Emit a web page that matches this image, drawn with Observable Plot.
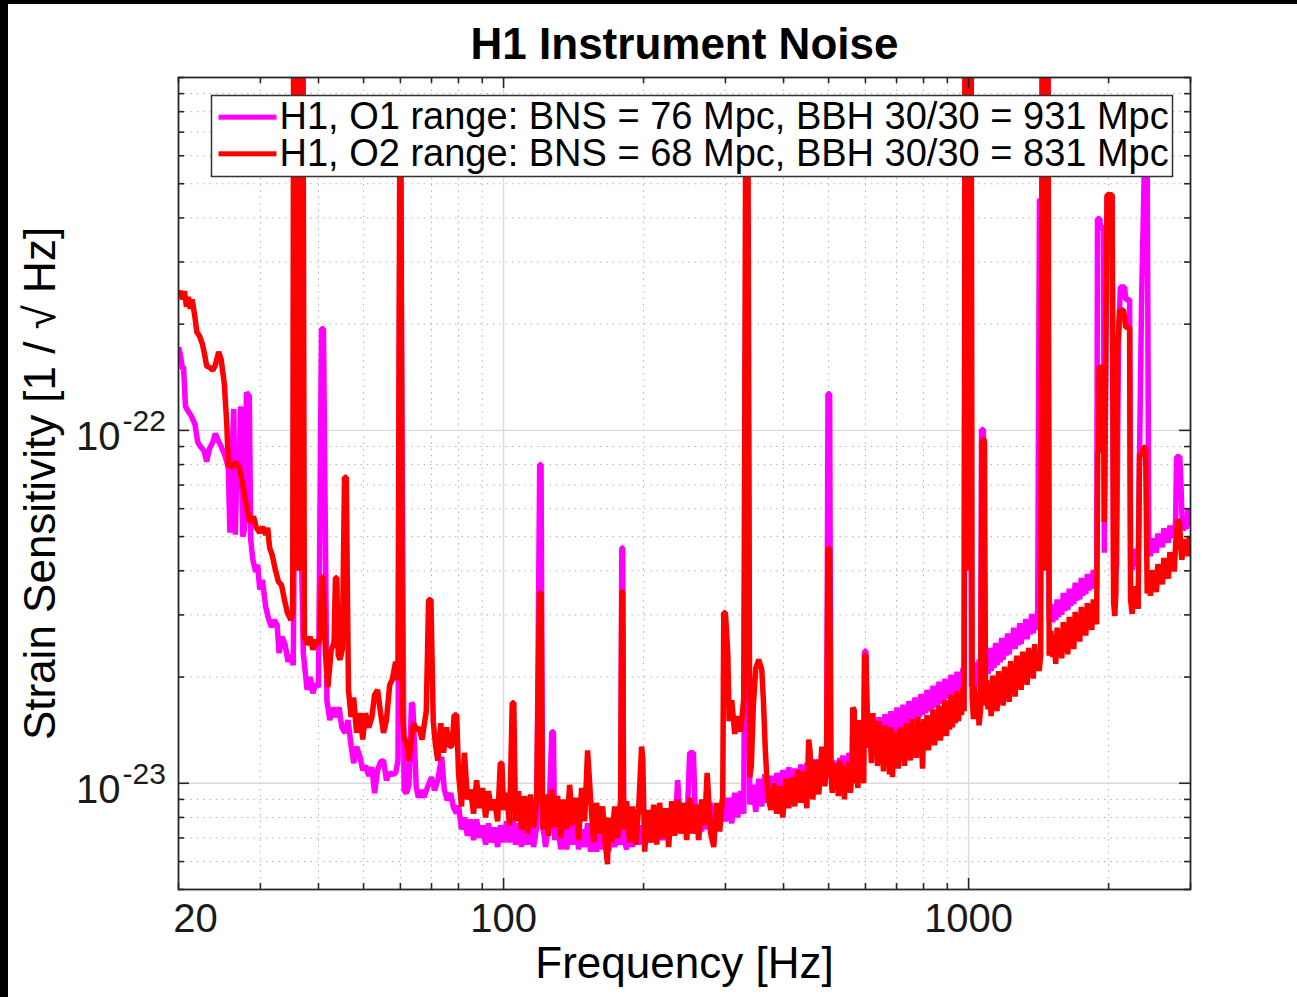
<!DOCTYPE html>
<html><head><meta charset="utf-8">
<script src="https://cdn.jsdelivr.net/npm/d3@7"></script>
<script src="https://cdn.jsdelivr.net/npm/@observablehq/plot@0.6"></script>
<style>
html,body{margin:0;padding:0;background:#000;width:1297px;height:997px;overflow:hidden;}
#chart{position:absolute;left:8px;top:4px;width:1289px;height:993px;background:#fff;}
</style></head><body><div id="chart"></div>
<script>
// Strain amplitude values are in units of 1e-23 / sqrt(Hz); frequency in Hz.
const title = "H1 Instrument Noise";
const xLabel = "Frequency [Hz]";
const yLabel = "Strain Sensitivity [1 / \u221A Hz]";
const legendO1 = "H1, O1 range: BNS = 76 Mpc, BBH 30/30 = 931 Mpc";
const legendO2 = "H1, O2 range: BNS = 68 Mpc, BBH 30/30 = 831 Mpc";

const xMajor = [100, 1000];
const xMinor = [20, 30, 40, 50, 60, 70, 80, 90, 200, 300, 400, 500, 600, 700, 800, 900, 2000, 3000];
const xTickLabels = [100, 1000];
const xFirstLabel = [20];
const yMajor = [1, 10];
const yMinor = [0.5, 0.6, 0.7, 0.8, 0.9, 2, 3, 4, 5, 6, 7, 8, 9, 20, 30, 40, 50, 60, 70, 80, 90, 100];
const yTickExp = ["-23", "-22"];

// O1 (magenta)
const o1 = [[20,17.2],[20.2,16.3],[20.4,14.9],[20.5,15.2],[20.7,11.7],[21.0,11.3],[21.3,11.0],[21.7,10.4],[22.0,9.25],[22.3,9.0],[22.7,8.74],[23.0,8.16],[23.3,8.85],[23.7,9.25],[24.0,9.79],[24.4,9.30],[24.7,9.0],[25.1,8.56],[25.4,8.16],[25.6,7.75],[25.8,5.13],[26.0,7.75],[26.3,11.5],[26.5,5.06],[26.7,7.65],[27.0,7.6],[27.2,11.7],[27.5,5.0],[27.7,5.23],[28.0,12.8],[28.4,12.5],[28.6,4.90],[28.9,4.30],[29.3,3.97],[29.6,4.16],[29.9,3.54],[30.3,3.77],[30.8,3.16],[31.2,2.94],[31.7,2.77],[32.1,2.90],[32.6,2.81],[32.9,2.34],[33.4,2.60],[33.9,2.47],[34.4,2.21],[34.9,2.31],[35.3,2.16],[35.7,15.9],[36.1,15.9],[37.1,2.34],[37.8,1.84],[38.4,2.0],[38.9,1.80],[39.5,1.92],[40.0,1.87],[40.6,19.4],[41.0,19.4],[41.7,1.72],[42.3,1.51],[43.0,1.64],[43.6,1.54],[44.3,1.64],[44.9,1.44],[45.6,1.39],[46.3,1.51],[47.0,1.28],[47.6,1.14],[48.3,1.27],[49.1,1.19],[49.8,1.09],[50.5,1.12],[51.3,1.05],[52.1,1.11],[52.8,0.937],[53.6,1.09],[54.4,1.15],[55.2,1.16],[56.0,1.02],[56.9,1.07],[57.6,1.06],[58.6,1.07],[59.3,1.16],[59.8,30],[60.2,30],[61.1,0.955],[61.8,0.937],[62.6,0.987],[63.4,1.69],[63.8,1.67],[64.9,0.974],[65.6,0.912],[66.5,0.955],[67.4,0.912],[68.6,0.974],[70.0,1.04],[71.1,0.955],[72.2,1.02],[73.6,1.19],[74.6,0.955],[75.7,0.895],[77.0,0.937],[78.0,0.855],[79.2,0.822],
[80.0,0.866],[81.2,0.74],[82.4,0.80],[83.6,0.71],[84.9,0.79],[86.2,0.69],[87.5,0.79],[88.8,0.70],[90.1,0.76],[91.5,0.67],[92.8,0.77],[94.2,0.68],[95.6,0.75],[97.1,0.66],[98.5,0.76],[100,0.68],[101.5,0.78],[103.0,0.68],[104.6,0.80],[106.1,0.67],[107.7,0.77],[109.3,0.66],[111.0,0.76],[112.6,0.67],[114.3,0.77],[116.0,0.66],[117.8,0.75],[119.6,8.0],[120.4,8.0],[121.3,0.77],[123.1,0.66],[125.0,0.76],[127.0,1.40],[128.0,1.40],[128.8,0.69],[130.7,0.77],[132.7,0.65],[134.6,0.75],[136.7,0.65],[138.7,0.76],[140.8,0.67],[142.9,0.77],[145.0,0.65],[147.2,0.74],[149.4,0.66],[151.6,0.77],[153.9,0.64],[156.2,0.73],[158.5,0.64],[160.9,0.74],[163.3,0.65],[165.8,0.72],[168.2,0.64],[170.8,0.74],[173.3,0.66],[175.9,0.74],[178.5,0.67],[179.6,4.65],[180.4,4.65],[181.2,0.70],[183.9,0.65],[186.7,0.75],[189.5,0.66],[192.3,0.75],[195.2,0.67],[198.1,0.76],[201.1,0.67],[204.1,0.78],[207.2,0.68],[210.3,0.79],[213.4,0.68],[216.6,0.80],[219.9,0.69],[223.2,0.81],[226.5,0.70],[229.9,0.82],[233.3,0.72],[236.8,1.02],[240.4,0.74],[244.0,0.85],[247.6,0.72],[251.3,1.22],[256.0,1.22],[258.9,0.76],[262.8,0.87],[266.7,0.73],[270.7,0.85],[274.8,0.74],[278.9,0.88],[283.1,0.72],[287.3,0.85],[291.6,0.76],[296.0,0.91],[300.4,0.78],[304.9,0.91],[309.5,0.77],[314.1,0.94],[318.8,0.80],[323.6,0.95],[328.5,0.82],[332,30],[335,30],[338.4,0.87],[343.4,0.99],[348.6,0.83],[353.8,1.03],[359.1,0.86],[364.5,1.06],[369.9,0.88],[375.5,1.05],[381.1,0.88],[386.8,1.07],[392.6,0.90],[398.5,1.09],[404.5,0.91],[410.5,1.11],[416.7,0.93],[422.9,1.10],[429.2,0.94],[435.7,1.13],[442.2,0.96],[448.8,1.14],[455.6,0.97],[462.4,1.17],[469.3,0.98],[476.4,1.17],[483.5,1.00],[490.8,1.20],[495.0,1.09],[498.5,12.7],[502.5,12.7],
[505.6,1.10],[509,1.00],[513.2,1.16],[517,0.98],[520.8,1.14],[524.7,1.02],[528.6,1.18],[532.6,1.00],[536.6,1.20],[540.6,1.04],[544.6,1.16],[548.7,1.02],[552.8,1.22],[557,1.05],[561.1,1.18],[565,1.04],[569.5,1.24],[573.7,1.06],[578,1.20],[582,1.05],[586.7,1.26],[591,1.08],[594,1.16],[597.5,2.37],[601.5,2.37],[604.4,1.45],[609,1.26],[613.5,1.42],[618,1.24],[622.7,1.50],[627,1.28],[632,1.46],[637,1.28],[641.5,1.54],[646,1.30],[651.1,1.50],[656,1.32],[660.8,1.57],[666,1.34],[670.7,1.52],[676,1.34],[680.8,1.60],[686,1.36],[691,1.56],[696,1.38],[701.3,1.64],[706,1.40],[711.8,1.60],[717,1.42],[722.5,1.67],[728,1.44],[733.3,1.62],[739,1.46],[744.3,1.71],[750,1.48],[755.4,1.66],[761,1.50],[766.8,1.75],[772,1.52],[778.2,1.70],[784,1.54],[789.9,1.79],[796,1.56],[801.7,1.74],[808,1.58],[813.7,1.84],[820,1.60],[825.9,1.78],[832,1.62],[838.3,1.89],[845,1.64],[850.9,1.82],[857,1.66],[863.6,1.94],[870,1.68],[876.5,1.88],[883,1.70],[889.7,1.98],[896,1.74],[903,1.92],[910,1.76],[916.6,2.03],[923,1.78],[930.3,1.96],[937,1.80],[944.2,2.07],[951,1.82],[958.4,2.00],[965,1.86],[972.7,2.12],[978,1.92],
[985,300],[1005,300],[1015,1.88],[1022,2.14],[1030,1.94],[1038,2.20],[1046,1.88],[1053,2.24],[1061,1.98],[1066,10.06],[1076,10.06],[1085,2.02],[1093,2.30],[1101,2.04],[1110,2.42],[1118,2.08],[1126,2.36],[1134,2.12],[1143,2.50],[1151,2.16],[1160,2.44],[1169,2.20],[1178,2.58],[1186,2.24],[1195,2.52],[1204,2.30],[1213,2.66],[1222,2.32],[1231,2.60],[1240,2.40],[1250,2.76],[1259,2.40],[1269,2.70],[1278,2.46],[1288,2.84],[1297,2.48],[1307,2.76],[1317,2.56],[1327,2.92],[1336,2.56],[1346,2.86],[1356,2.64],[1367,3.02],[1377,2.66],[1387,2.94],[1397,2.72],[1408,3.10],[1420,45],[1438,45],[1442,300],[1475,300],[1490,2.90],[1503,3.22],[1517,2.86],[1528,3.14],[1539,2.90],[1550,3.32],[1562,2.96],[1574,3.24],[1586,3.00],[1598,3.46],[1610,3.08],[1622,3.36],[1634,3.10],[1646,3.56],[1658,3.18],[1670,3.46],[1683,3.22],[1695,3.70],[1708,3.30],[1721,3.58],[1734,3.32],[1747,3.82],[1760,3.40],[1773,3.70],[1786,3.44],[1800,3.92],[1813,3.52],[1826,3.80],[1840,3.56],[1854,4.02],[1868,3.64],[1876,3.86],[1885,3.60],[1893,39.8],[1915,39.8],[1920,37.5],[1950,37.5],[1958,4.5],[1985,46],[2035,46],[2050,4.03],[2062,3.80],[2081,4.16],[2100,17.6],[2120,25.5],[2165,25.5],[2176,23.5],[2219,23.5],[2230,4.30],[2248,4.02],[2266,4.62],[2283,4.20],[2300,4.50],[2315,4.10],[2331,8.55],[2355,23.5],[2379,45],[2395,70],[2420,70],[2440,4.74],[2460,4.40],[2478,4.95],[2497,4.55],[2515,4.88],[2534,4.50],[2553,5.10],[2572,4.70],[2591,5.00],[2611,4.66],[2630,5.28],[2650,4.85],[2669,5.15],[2689,4.80],[2709,5.38],[2730,4.98],[2750,5.25],[2768,4.95],[2787,5.58],[2800,8.42],[2845,8.42],[2860,7.25],[2875,5.77],[2897,5.20],[2918,5.60],[2940,5.25],[2962,6.00],[2981,5.35],[3000,5.60]];

// O2 (red)
const o2 = [[20,24.3],[20.2,24.8],[20.4,23.5],[20.6,24.8],[20.8,22.4],[21.0,23.9],[21.2,22.1],[21.4,23.5],[21.7,20.9],[21.9,19.0],[22.2,18.5],[22.5,17.6],[22.7,16.7],[23.0,15.2],[23.3,15.1],[23.7,14.8],[24.0,15.3],[24.4,16.7],[24.7,15.9],[25.1,13.5],[25.4,10.4],[25.6,8.0],[26.0,7.86],[26.5,8.11],[27.0,7.86],[27.3,7.36],[27.7,6.58],[28.1,5.96],[28.5,5.48],[29.0,5.70],[29.4,5.30],[29.9,5.13],[30.3,5.33],[30.8,5.06],[31.1,5.30],[31.4,4.65],[31.8,4.44],[32.3,4.03],[32.8,3.73],[33.3,3.65],[33.8,3.31],[34.3,3.04],[34.9,2.90],[35.2,3.06],[35.4,300],[35.6,300],[35.8,4.0],[36.0,300],[36.3,300],[36.5,4.0],[36.7,300],[37.0,300],[37.3,2.6],[37.8,2.47],[38.4,2.60],[38.9,2.39],[39.5,2.55],[40.0,2.47],[40.3,2.60],[40.6,3.84],[40.9,3.84],[41.4,2.34],[41.9,1.87],[42.6,2.39],[43.2,2.50],[43.5,3.82],[43.8,3.82],[44.1,2.31],[44.5,2.24],[45.0,2.39],[45.5,7.36],[45.9,7.36],[46.4,1.84],[47.0,1.54],[47.6,1.75],[48.3,1.39],[49.1,1.58],[49.8,1.33],[50.5,1.58],[51.3,1.44],[52.1,1.54],[52.8,1.78],[53.6,1.84],[54.4,1.58],[55.2,1.39],[56.0,1.51],[56.9,1.90],[57.6,1.96],[58.6,2.21],[59.3,1.96],[59.8,60],[60.2,60],[60.6,1.6],[61.1,1.35],[61.8,1.30],[62.6,1.16],[63.4,1.35],[64.1,1.48],[65.0,1.41],[65.8,1.44],[66.8,1.33],[68.2,1.6],[69.0,3.31],[69.8,3.31],[70.6,1.5],[71.3,1.30],[72.2,1.16],[73.3,1.48],[74.3,1.22],[75.4,1.44],[76.5,1.27],[77.5,1.28],[78.3,1.56],[79.3,1.56],
[80.0,1.07],[81.2,0.86],[82.4,1.22],[83.6,0.90],[84.9,0.96],[86.2,0.82],[87.5,1.02],[88.8,0.85],[90.1,0.97],[91.5,0.80],[92.8,0.95],[94.2,0.84],[95.6,0.90],[97.1,0.78],[98.4,1.14],[99.2,1.14],[100,0.84],[101.5,0.94],[103.0,0.76],[104.4,1.69],[105.2,1.69],[106.1,0.78],[107.7,0.95],[109.3,0.74],[111.0,0.92],[112.6,0.72],[114.3,0.93],[116.0,0.75],[117.8,0.90],[119.5,3.46],[120.4,3.46],[121.3,0.74],[123.1,0.93],[125.0,0.71],[126.9,0.96],[128.8,0.75],[130.7,0.92],[132.7,0.70],[134.6,0.90],[136.7,0.74],[138.7,0.99],[140.8,0.76],[142.9,0.91],[145.0,0.69],[147.2,0.97],[149.4,0.78],[151.6,1.24],[153.9,0.90],[156.2,0.68],[158.5,0.88],[160.9,0.72],[163.3,0.86],[165.8,0.66],[167.3,0.59],[168.2,0.80],[170.8,0.68],[173.3,0.86],[175.9,0.70],[178.5,0.90],[179.6,3.49],[180.4,3.49],[181.2,0.74],[183.9,0.89],[186.7,0.68],[189.5,0.86],[192.3,0.67],[195.2,0.85],[198.1,1.27],[199.2,1.18],[201.1,0.64],[204.1,0.84],[207.2,0.68],[210.3,0.87],[213.4,0.67],[216.6,0.88],[219.9,0.70],[223.2,0.85],[226.5,0.66],[229.9,0.89],[233.3,0.71],[236.8,0.90],[240.4,0.72],[244.0,0.88],[247.6,0.69],[251.3,0.91],[255.1,0.72],[258.9,0.87],[262.8,0.69],[266.7,0.90],[270.7,0.76],[274.0,1.07],[278.9,0.72],[283.1,0.66],[287.3,0.88],[291.6,0.73],[296.0,0.92],[297.5,3.04],[300.0,3.04],[303.5,2.34],[305.5,1.50],[309.5,1.72],[314.1,1.38],[318.8,1.55],[323.6,1.40],[328.5,1.75],[331.5,60],[335.5,60],[338.4,1.04],[341.0,1.12],[344.5,1.67],[348.6,2.12],[353.8,2.24],[359.1,2.10],[362.0,1.72],[365.5,1.24],[369.9,0.93],[375.5,0.84],[381.1,1.0],[386.8,0.82],[392.6,0.98],[398.5,0.80],[404.5,1.03],[410.5,0.85],[416.7,1.04],[422.9,0.86],[429.2,1.09],[435.7,0.88],[442.2,1.08],[448.8,0.85],[453.0,1.33],[455.6,1.25],[462.4,0.90],[469.3,1.16],[476.4,0.93],[483.5,1.27],[490.8,0.98],[495.0,1.16],[498.5,4.63],[502.5,4.63],
[505.6,1.08],[509,0.94],[513.2,1.14],[517,0.98],[520.8,1.10],[524.7,0.92],[528.6,1.16],[532.6,0.96],[536.6,1.08],[540.6,0.90],[544.6,1.12],[548.7,0.97],[552.8,1.15],[557,0.94],[561.1,1.06],[563.5,1.64],[567.5,1.61],[569.5,1.00],[573.7,1.12],[578,0.97],[583,1.51],[586.7,1.02],[591,1.14],[595,1.00],[597.5,2.31],[601.5,2.31],[604.4,1.72],[609,1.26],[613.5,1.46],[618,1.14],[622.7,1.58],[627,1.20],[632,1.42],[637,1.12],[641.5,1.50],[646,1.16],[651.1,1.40],[656,1.08],[660.8,1.46],[666,1.14],[670.7,1.36],[676,1.06],[680.8,1.44],[686,1.04],[691,1.40],[696,1.14],[701.3,1.36],[706,1.10],[711.8,1.44],[717,1.16],[722.5,1.38],[728,1.12],[733.3,1.48],[739,1.20],[744.3,1.42],[750,1.16],[755.4,1.52],[761,1.22],[766.8,1.46],[772,1.18],[778.2,1.54],[784,1.26],[789.9,1.48],[796,1.10],[801.7,1.52],[808,1.28],[813.7,1.56],[820,1.24],[825.9,1.50],[832,1.30],[838.3,1.62],[845,1.28],[850.9,1.56],[857,1.34],[863.6,1.66],[870,1.32],[876.5,1.58],[883,1.38],[889.7,1.72],[896,1.36],[903,1.62],[910,1.42],[916.6,1.78],[923,1.44],[930.3,1.68],[937,1.48],[944.2,1.82],[951,1.50],[958.4,1.72],[965,1.56],[972.7,1.86],[978,1.60],
[983,300],[993,300],[997,4],[1001,300],[1012,300],[1018,1.75],[1024,1.52],[1030,1.88],[1038,1.60],[1046,1.80],[1053,1.46],[1061,1.62],[1070,9.4],[1082,9.4],[1087,1.66],[1093,1.96],[1101,1.62],[1110,1.90],[1118,1.55],[1126,2.02],[1134,1.72],[1143,1.84],[1151,1.60],[1160,2.08],[1169,1.70],[1178,1.96],[1186,1.66],[1195,2.14],[1204,1.82],[1213,2.06],[1222,1.70],[1231,2.22],[1240,1.86],[1250,2.12],[1259,1.76],[1269,2.30],[1278,1.90],[1288,2.16],[1297,1.84],[1307,2.36],[1317,2.00],[1327,2.24],[1336,1.90],[1346,2.42],[1356,2.06],[1367,2.30],[1377,1.98],[1387,2.48],[1397,2.14],[1408,2.38],[1418,2.08],[1429,2.30],[1442,300],[1455,300],[1460,4],[1464,300],[1480,300],[1490,2.30],[1503,2.70],[1517,2.28],[1528,2.58],[1539,2.18],[1550,2.76],[1562,2.36],[1574,2.62],[1586,2.26],[1598,2.86],[1610,2.44],[1622,2.70],[1634,2.32],[1646,2.96],[1658,2.52],[1670,2.80],[1683,2.40],[1695,3.06],[1708,2.62],[1721,2.92],[1734,2.52],[1747,3.16],[1760,2.74],[1773,3.02],[1786,2.62],[1800,3.24],[1813,2.84],[1826,3.10],[1840,2.72],[1854,3.32],[1868,2.92],[1876,3.10],[1885,2.82],[1895,8.65],[1905,8.65],[1908,15.1],[1950,15.1],[1958,5.5],[1985,46.5],[2035,46.5],[2050,3.25],[2062,2.98],[2073,3.45],[2091,16.9],[2112,21.9],[2154,21.9],[2176,19.6],[2219,19.6],[2230,3.30],[2248,3.02],[2266,3.62],[2283,3.25],[2300,3.50],[2315,3.12],[2331,8.55],[2355,8.55],[2379,8.94],[2402,8.94],[2421,3.45],[2441,3.85],[2460,3.40],[2478,4.02],[2497,3.60],[2515,3.92],[2534,3.48],[2553,4.18],[2572,3.74],[2591,4.05],[2611,3.66],[2630,4.35],[2650,3.90],[2669,4.22],[2689,3.80],[2709,4.52],[2730,4.05],[2750,4.38],[2768,3.98],[2787,4.74],[2815,5.58],[2842,5.48],[2858,4.70],[2875,4.30],[2897,4.92],[2918,4.45],[2940,4.90],[2962,4.40],[2981,5.00],[3000,4.85]];

const W = 1289, H = 993, mL = 170, mR = 107, mT = 73, mB = 108;
const FW = W - mL - mR, FH = H - mT - mB;
const font = '"Liberation Sans", Arial, Helvetica, sans-serif';
const axisColor = "#262626";

const chart = Plot.plot({
  width: W, height: H,
  marginLeft: mL, marginRight: mR, marginTop: mT, marginBottom: mB,
  style: {fontFamily: font, background: "#fff"},
  x: {type: "log", domain: [20, 3000], axis: null},
  y: {type: "log", domain: [0.5, 100], axis: null},
  marks: [
    Plot.ruleX(xMinor, {x: d => d, stroke: "#a8a8a8", strokeWidth: 1, strokeDasharray: "1.3,5"}),
    Plot.ruleY(yMinor, {y: d => d, stroke: "#a8a8a8", strokeWidth: 1, strokeDasharray: "1.3,5"}),
    Plot.ruleX(xMajor, {x: d => d, stroke: "#dadada", strokeWidth: 1.4}),
    Plot.ruleY(yMajor, {y: d => d, stroke: "#dadada", strokeWidth: 1.4}),
    Plot.line(o1, {x: d => d[0], y: d => d[1], stroke: "#ff00ff", strokeWidth: 5.5, strokeLinejoin: "miter", strokeLinecap: "butt", clip: true}),
    Plot.line(o2, {x: d => d[0], y: d => d[1], stroke: "#ff0000", strokeWidth: 5.5, strokeLinejoin: "miter", strokeLinecap: "butt", clip: true}),
    // tick marks (inward, all four sides)
    Plot.ruleX(xMinor, {x: d => d, insetTop: FH - 6, stroke: axisColor, strokeWidth: 1.6}),
    Plot.ruleX(xMinor, {x: d => d, insetBottom: FH - 6, stroke: axisColor, strokeWidth: 1.6}),
    Plot.ruleX(xMajor, {x: d => d, insetTop: FH - 11, stroke: axisColor, strokeWidth: 1.6}),
    Plot.ruleX(xMajor, {x: d => d, insetBottom: FH - 11, stroke: axisColor, strokeWidth: 1.6}),
    Plot.ruleY(yMinor, {y: d => d, insetRight: FW - 6, stroke: axisColor, strokeWidth: 1.6}),
    Plot.ruleY(yMinor, {y: d => d, insetLeft: FW - 6, stroke: axisColor, strokeWidth: 1.6}),
    Plot.ruleY(yMajor, {y: d => d, insetRight: FW - 11, stroke: axisColor, strokeWidth: 1.6}),
    Plot.ruleY(yMajor, {y: d => d, insetLeft: FW - 11, stroke: axisColor, strokeWidth: 1.6}),
    Plot.frame({stroke: axisColor, strokeWidth: 1.8}),
    // tick labels
    Plot.text(xTickLabels, {x: d => d, text: d => String(d), frameAnchor: "bottom", dy: 42, textAnchor: "middle", lineAnchor: "bottom", fontSize: 40, fill: "#1a1a1a", fontFamily: font}),
    Plot.text(xFirstLabel, {x: d => d, text: d => String(d), frameAnchor: "bottom", dx: 17, dy: 42, textAnchor: "middle", lineAnchor: "bottom", fontSize: 40, fill: "#1a1a1a", fontFamily: font}),
    Plot.text(yMajor, {y: d => d, text: () => "10", frameAnchor: "left", dx: -58, dy: 20, textAnchor: "end", lineAnchor: "bottom", fontSize: 40, fill: "#1a1a1a", fontFamily: font}),
    Plot.text(yMajor, {y: d => d, text: (d, i) => yTickExp[i], frameAnchor: "left", dx: -56, dy: 1, textAnchor: "start", lineAnchor: "bottom", fontSize: 30, fill: "#1a1a1a", fontFamily: font}),
    // axis titles and chart title
    Plot.text([xLabel], {text: d => d, frameAnchor: "bottom", dy: 88, textAnchor: "middle", lineAnchor: "bottom", fontSize: 44, fill: "#000", fontFamily: font}),
    Plot.text([yLabel], {text: d => d, frameAnchor: "left", dx: -124, rotate: -90, textAnchor: "middle", lineAnchor: "bottom", fontSize: 44, fill: "#000", fontFamily: font}),
    Plot.text([title], {text: d => d, frameAnchor: "top", dy: -19, textAnchor: "middle", lineAnchor: "bottom", fontSize: 44, fontWeight: "bold", fill: "#000", fontFamily: font}),
    // legend
    Plot.frame({fill: "#fff", stroke: "#333", strokeWidth: 1.5, insetLeft: 33, insetRight: 18, insetTop: 18, insetBottom: FH - 99}),
    Plot.frame({fill: "#ff00ff", stroke: "none", insetLeft: 40, insetRight: FW - 98, insetTop: 37.2, insetBottom: FH - 42.2}),
    Plot.frame({fill: "#ff0000", stroke: "none", insetLeft: 40, insetRight: FW - 98, insetTop: 73.8, insetBottom: FH - 78.8}),
    Plot.text([legendO1], {text: d => d, frameAnchor: "top-left", dx: 101, dy: 51, textAnchor: "start", lineAnchor: "bottom", fontSize: 38, fill: "#000", fontFamily: font}),
    Plot.text([legendO2], {text: d => d, frameAnchor: "top-left", dx: 101, dy: 88, textAnchor: "start", lineAnchor: "bottom", fontSize: 38, fill: "#000", fontFamily: font})
  ]
});
document.getElementById("chart").appendChild(chart);
</script>
</body></html>
